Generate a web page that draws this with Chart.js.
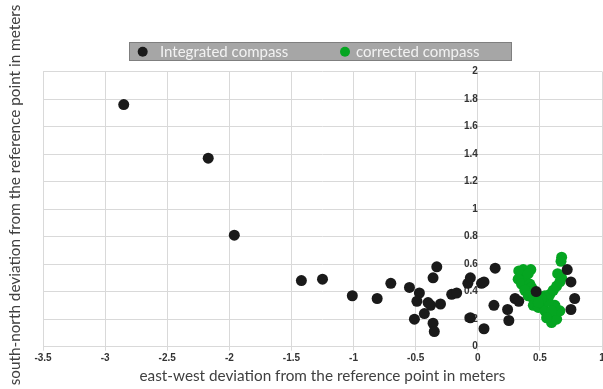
<!DOCTYPE html>
<html lang="en">
<head>
<meta charset="UTF-8">
<title>Compass deviation</title>
<style>
    html, body { margin: 0; padding: 0; background: #ffffff; }
    canvas { display: block; }
</style>
</head>
<body>
<canvas id="deviationChart" width="603" height="389"></canvas>
<script src="https://cdn.jsdelivr.net/npm/chart.js"></script>
<script>
const seriesNames = ['Integrated compass', 'corrected compass'];

const integratedX = [-2.85, -2.17, -1.96, -1.42, -1.25, -1.01, -0.81, -0.70, -0.55, -0.47,
                     -0.49, -0.40, -0.38, -0.30, -0.33, -0.36, -0.51, -0.43, -0.36, -0.35,
                     -0.21, -0.17, -0.08, -0.06, 0.03, 0.05, -0.06, 0.05, 0.14, 0.13,
                     0.24, 0.25, 0.30, 0.33, 0.47, 0.72, 0.75, 0.78, 0.75];
const integratedY = [1.76, 1.37, 0.81, 0.48, 0.49, 0.37, 0.35, 0.46, 0.43, 0.39,
                     0.33, 0.32, 0.30, 0.31, 0.58, 0.50, 0.20, 0.24, 0.17, 0.11,
                     0.38, 0.39, 0.46, 0.50, 0.46, 0.47, 0.21, 0.13, 0.57, 0.30,
                     0.27, 0.19, 0.35, 0.33, 0.40, 0.56, 0.47, 0.35, 0.27];

const correctedX = [0.675, 0.67, 0.643, 0.675, 0.366, 0.427, 0.33, 0.352, 0.379, 0.325,
                    0.406, 0.352, 0.419, 0.42, 0.433, 0.379, 0.406, 0.447, 0.447, 0.487,
                    0.527, 0.54, 0.581, 0.594, 0.635, 0.661, 0.621, 0.567, 0.54, 0.581,
                    0.608, 0.635, 0.661, 0.513, 0.487, 0.594, 0.554];
const correctedY = [0.65, 0.62, 0.53, 0.50, 0.56, 0.56, 0.55, 0.52, 0.49, 0.49,
                    0.53, 0.455, 0.455, 0.42, 0.43, 0.41, 0.37, 0.35, 0.30, 0.285,
                    0.30, 0.26, 0.22, 0.175, 0.20, 0.26, 0.30, 0.33, 0.37, 0.38,
                    0.41, 0.44, 0.47, 0.35, 0.32, 0.26, 0.21];

const xTicks = [-3.5, -3, -2.5, -2, -1.5, -1, -0.5, 0, 0.5, 1];
const xTickLabels = ['-3.5', '-3', '-2.5', '-2', '-1.5', '-1', '-0.5', '0', '0.5', '1'];
const yTicks = [0, 0.2, 0.4, 0.6, 0.8, 1, 1.2, 1.4, 1.6, 1.8, 2];
const yTickLabels = ['0', '0.2', '0.4', '0.6', '0.8', '1', '1.2', '1.4', '1.6', '1.8', '2'];

const xTitle = 'east-west deviation from the reference point in meters';
const yTitle = 'south-north deviation from the reference point in meters';

const seriesColors = ['#1a1a1a', '#05a521'];
const gridColor = '#d9d9d9';

function toPoints(xs, ys) {
    return xs.map((x, i) => ({ x: x, y: ys[i] }));
}

// grey legend strip + rotated y title, drawn the Excel way
const extras = {
    id: 'extras',
    afterDraw(chart) {
        const ctx = chart.ctx;
        ctx.save();
        ctx.fillStyle = '#a6a6a6';
        ctx.strokeStyle = '#7f7f7f';
        ctx.lineWidth = 1;
        ctx.fillRect(129.5, 42.5, 382, 18);
        ctx.strokeRect(129.5, 42.5, 382, 18);

        const markerX = [142.7, 345];
        const textX = [160, 356];
        ctx.font = '15px Lato';
        ctx.textBaseline = 'middle';
        ctx.textAlign = 'left';
        chart.data.datasets.forEach((ds, i) => {
            ctx.fillStyle = ds.backgroundColor;
            ctx.beginPath();
            ctx.arc(markerX[i], 51.7, 5, 0, Math.PI * 2);
            ctx.fill();
            ctx.fillStyle = '#f2f2f2';
            ctx.fillText(ds.label, textX[i], 52);
        });

        ctx.font = '15.3px Lato';
        ctx.translate(15, 195);
        ctx.rotate(-Math.PI / 2);
        ctx.textAlign = 'center';
        ctx.fillStyle = '#404040';
        ctx.fillText(yTitle, 0, 0);
        ctx.restore();
    }
};

const ctx = document.getElementById('deviationChart').getContext('2d');
new Chart(ctx, {
    type: 'scatter',
    data: {
        datasets: [
            {
                label: seriesNames[0],
                data: toPoints(integratedX, integratedY),
                backgroundColor: seriesColors[0],
                borderWidth: 0,
                pointRadius: 5.5
            },
            {
                label: seriesNames[1],
                data: toPoints(correctedX, correctedY),
                backgroundColor: seriesColors[1],
                borderWidth: 0,
                pointRadius: 5.5
            }
        ]
    },
    options: {
        responsive: false,
        animation: false,
        layout: { autoPadding: false, padding: { top: 71.5, left: 43, right: 1, bottom: 0 } },
        plugins: {
            legend: { display: false },
            tooltip: { enabled: false }
        },
        scales: {
            x: {
                type: 'linear',
                position: 'bottom',
                min: -3.5,
                max: 1,
                afterBuildTicks: (axis) => { axis.ticks = xTicks.map(v => ({ value: v })); },
                afterFit: (axis) => { axis.paddingRight = 0; },
                grid: { color: gridColor, tickLength: 4 },
                border: { color: gridColor },
                ticks: {
                    autoSkip: false,
                    maxRotation: 0,
                    padding: 2,
                    color: '#333333',
                    font: { family: 'Liberation Sans', size: 10, weight: 'bold' },
                    callback: (v) => xTickLabels[xTicks.indexOf(v)]
                },
                title: {
                    display: true,
                    text: xTitle,
                    color: '#404040',
                    font: { family: 'Lato', size: 15.3 },
                    padding: { top: 0, bottom: 4 }
                }
            },
            y: {
                type: 'linear',
                position: { x: 0 },
                min: 0,
                max: 2,
                afterBuildTicks: (axis) => { axis.ticks = yTicks.map(v => ({ value: v })); },
                afterFit: (axis) => { axis.width = 0; },
                grid: { color: gridColor, drawTicks: false },
                border: { color: gridColor },
                ticks: {
                    padding: 5,
                    color: '#333333',
                    font: { family: 'Liberation Sans', size: 10, weight: 'bold' },
                    callback: (v) => yTickLabels[yTicks.indexOf(v)]
                }
            }
        }
    },
    plugins: [extras]
});
</script>
</body>
</html>
